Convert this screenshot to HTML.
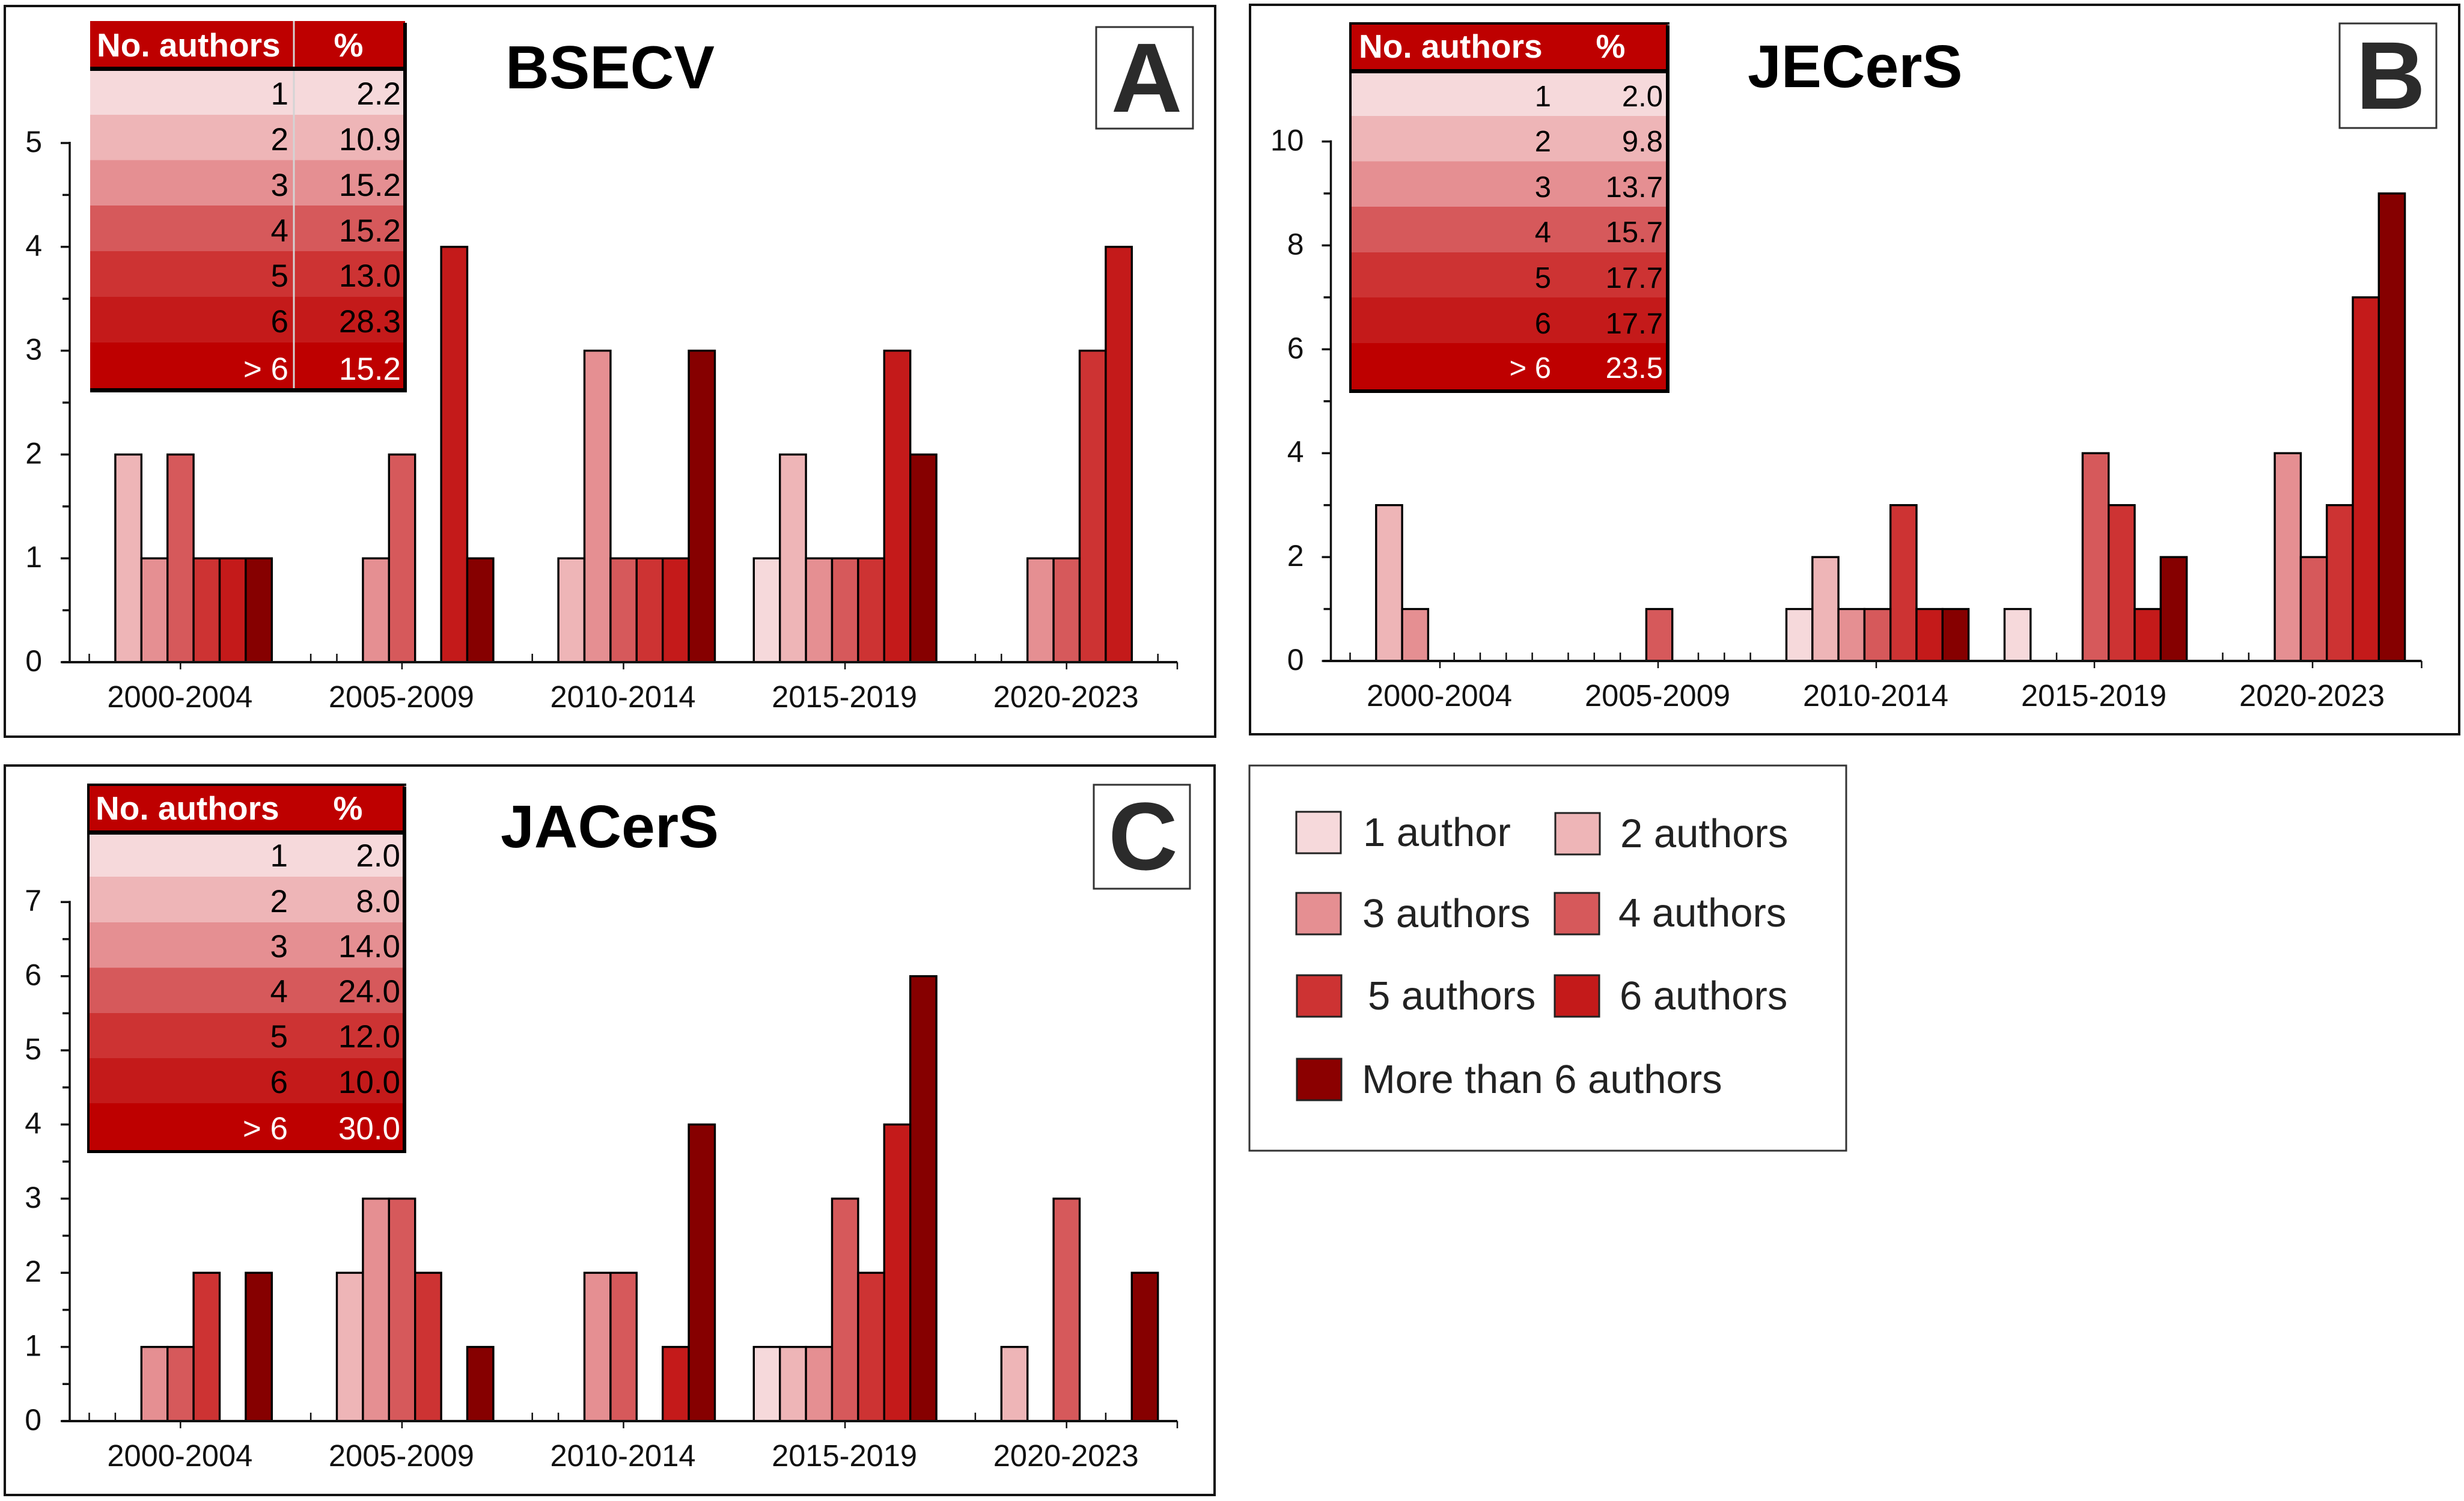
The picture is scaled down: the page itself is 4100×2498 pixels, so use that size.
<!DOCTYPE html>
<html lang="en">
<head>
<meta charset="utf-8">
<title>Number of authors per paper by period: BSECV, JECerS, JACerS</title>
<style>
html,body{margin:0;padding:0;background:#fff;}
svg{display:block;}
text{font-family:"Liberation Sans",sans-serif;}
</style>
</head>
<body>
<svg id="figure" xmlns="http://www.w3.org/2000/svg" width="4100" height="2498" viewBox="0 0 4100 2498">
  <rect x="0" y="0" width="4100" height="2498" fill="#fff"/>

  <g id="panel-a">
    <rect x="8" y="10" width="2014" height="1216" fill="#fff" stroke="#111" stroke-width="4"/>
    <text x="841" y="147" font-size="101" font-weight="700" fill="#000">BSECV</text>
    <rect x="1824" y="45" width="161" height="169" fill="#fff" stroke="#333" stroke-width="3"/>
    <text x="1908" y="186" font-size="164" font-weight="700" fill="#2b2b2b" text-anchor="middle">A</text>
  </g>

  <g id="panel-b">
    <rect x="2080" y="8" width="2012" height="1214" fill="#fff" stroke="#111" stroke-width="4"/>
    <text x="2908" y="145" font-size="100.5" font-weight="700" fill="#000">JECerS</text>
    <rect x="3893" y="39" width="161" height="174" fill="#fff" stroke="#333" stroke-width="3"/>
    <text x="3978" y="181" font-size="160" font-weight="700" fill="#2b2b2b" text-anchor="middle">B</text>
  </g>

  <g id="panel-c">
    <rect x="8" y="1274" width="2013" height="1214" fill="#fff" stroke="#111" stroke-width="4"/>
    <text x="833" y="1410" font-size="100.5" font-weight="700" fill="#000">JACerS</text>
    <rect x="1820" y="1306" width="160" height="173" fill="#fff" stroke="#333" stroke-width="3"/>
    <text x="1902" y="1447" font-size="160" font-weight="700" fill="#2b2b2b" text-anchor="middle">C</text>
  </g>

  <g id="legend">
    <rect x="2079" y="1274" width="993" height="641" fill="#fff" stroke="#333" stroke-width="3"/>
    <g>
      <rect x="2157" y="1351" width="74" height="69" fill="#F6D9DB" stroke="#222" stroke-width="3"/>
      <text x="2268" y="1408" font-size="67" fill="#222">1 author</text>
    </g>
    <g>
      <rect x="2588" y="1353" width="74" height="69" fill="#EEB5B7" stroke="#222" stroke-width="3"/>
      <text x="2696" y="1410" font-size="67" fill="#222">2 authors</text>
    </g>
    <g>
      <rect x="2157" y="1486" width="74" height="69" fill="#E58F92" stroke="#222" stroke-width="3"/>
      <text x="2267" y="1543" font-size="67" fill="#222">3 authors</text>
    </g>
    <g>
      <rect x="2587" y="1486" width="74" height="69" fill="#D6595B" stroke="#222" stroke-width="3"/>
      <text x="2693" y="1542" font-size="67" fill="#222">4 authors</text>
    </g>
    <g>
      <rect x="2158" y="1623" width="74" height="69" fill="#CD3333" stroke="#222" stroke-width="3"/>
      <text x="2276" y="1680" font-size="67" fill="#222">5 authors</text>
    </g>
    <g>
      <rect x="2587" y="1623" width="74" height="69" fill="#C41A1A" stroke="#222" stroke-width="3"/>
      <text x="2695" y="1680" font-size="67" fill="#222">6 authors</text>
    </g>
    <g>
      <rect x="2158" y="1762" width="74" height="69" fill="#8B0000" stroke="#222" stroke-width="3"/>
      <text x="2266" y="1819" font-size="67" fill="#222">More than 6 authors</text>
    </g>
  </g>
</svg>

<script>
// ----- chart data -----
const periodLabels = ["2000-2004", "2005-2009", "2010-2014", "2015-2019", "2020-2023"];
const seriesColors = ["#F6D9DB", "#EEB5B7", "#E58F92", "#D6595B", "#CD3333", "#C41A1A", "#860000"];
const seriesKeys = ["1-author", "2-authors", "3-authors", "4-authors", "5-authors", "6-authors", "over-6-authors"];

const bsecvCounts = [
  [0, 2, 1, 2, 1, 1, 1],
  [0, 0, 1, 2, 0, 4, 1],
  [0, 1, 3, 1, 1, 1, 3],
  [1, 2, 1, 1, 1, 3, 2],
  [0, 0, 1, 1, 3, 4, 0]
];
const jecersCounts = [
  [0, 3, 1, 0, 0, 0, 0],
  [0, 0, 0, 1, 0, 0, 0],
  [1, 2, 1, 1, 3, 1, 1],
  [1, 0, 0, 4, 3, 1, 2],
  [0, 0, 4, 2, 3, 7, 9]
];
const jacersCounts = [
  [0, 0, 1, 1, 2, 0, 2],
  [0, 2, 3, 3, 2, 0, 1],
  [0, 0, 2, 2, 0, 1, 4],
  [1, 1, 1, 3, 2, 4, 6],
  [0, 1, 0, 3, 0, 0, 2]
];

const bsecvTicks = [0, 1, 2, 3, 4, 5];
const jecersTicks = [0, 2, 4, 6, 8, 10];
const jacersTicks = [0, 1, 2, 3, 4, 5, 6, 7];

const tableAuthorLabels = ["1", "2", "3", "4", "5", "6", "> 6"];
const bsecvShares = ["2.2", "10.9", "15.2", "15.2", "13.0", "28.3", "15.2"];
const jecersShares = ["2.0", "9.8", "13.7", "15.7", "17.7", "17.7", "23.5"];
const jacersShares = ["2.0", "8.0", "14.0", "24.0", "12.0", "10.0", "30.0"];

// ----- geometry (kept apart from the data) -----
const NS = "http://www.w3.org/2000/svg";
const rowFills = ["#F6D9DB", "#EEB5B7", "#E58F92", "#D6595B", "#CD3333", "#C41A1A", "#BE0000"];

function shape(parent, tag, attrs, text) {
  const el = document.createElementNS(NS, tag);
  for (const k in attrs) el.setAttribute(k, attrs[k]);
  if (text !== undefined) el.textContent = text;
  parent.appendChild(el);
  return el;
}

function drawChart(panelId, prefix, counts, ticks, g) {
  const root = document.getElementById(panelId);
  const xGroup = (i) => g.axisX + i * g.groupWidth;
  const xSlot = (i, s) => xGroup(i) + g.groupPad + s * g.slot;
  const yVal = (v) => g.y0 - v * g.unit;
  const yMax = ticks[ticks.length - 1];
  const tickStep = ticks[1] - ticks[0];

  // minor ticks rising from the x axis at every slot boundary
  periodLabels.forEach((label, i) => {
    for (let s = 0; s <= 7; s++) {
      const x = xSlot(i, s);
      const t = shape(root, "line", {x1: x, x2: x, y1: g.y0, y2: g.y0 - 14, stroke: "#111", "stroke-width": 2.5});
      
      
    }
  });

  // bars
  counts.forEach((row, i) => {
    row.forEach((v, s) => {
      if (v <= 0) return;
      const b = shape(root, "rect", {x: xSlot(i, s), y: yVal(v), width: g.slot, height: g.y0 - yVal(v),
        fill: seriesColors[s], stroke: "#000", "stroke-width": 3.4});
      
      
    });
  });

  // y axis line
  const yAxis = shape(root, "line", {x1: g.axisX, x2: g.axisX, y1: yVal(yMax) - 2, y2: g.y0 + 2, stroke: "#111", "stroke-width": 3.5});
  
  

  // y ticks and labels
  ticks.forEach((v) => {
    const major = shape(root, "line", {x1: g.axisX - 15, x2: g.axisX, y1: yVal(v), y2: yVal(v), stroke: "#111", "stroke-width": 3.5});
    
    
    if (v < yMax) {
      const minor = shape(root, "line", {x1: g.axisX - 12, x2: g.axisX, y1: yVal(v + tickStep / 2), y2: yVal(v + tickStep / 2), stroke: "#111", "stroke-width": 3.5});
      
      
    }
    const lab = shape(root, "text", {x: g.axisX - g.yLabelGap, y: yVal(v) + 15, "font-size": 50, fill: "#111", "text-anchor": "end"}, String(v));
    
    
  });

  // x axis line, major ticks, labels
  const xEnd = xGroup(periodLabels.length);
  const xAxis = shape(root, "line", {x1: g.axisX - 13, x2: xEnd, y1: g.y0, y2: g.y0, stroke: "#111", "stroke-width": 4});
  
  

  const endTick = shape(root, "line", {x1: xEnd, x2: xEnd, y1: g.y0, y2: g.y0 + 12, stroke: "#111", "stroke-width": 2.5});
  
  

  periodLabels.forEach((label, i) => {
    const cx = xGroup(i) + g.groupWidth / 2;
    const t = shape(root, "line", {x1: cx, x2: cx, y1: g.y0, y2: g.y0 + 12, stroke: "#111", "stroke-width": 2.5});
    
    
    const lab = shape(root, "text", {x: cx - 1, y: g.xLabelY, "font-size": 50.6, fill: "#111", "text-anchor": "middle"}, label);
    
    
  });
}

function drawTable(panelId, prefix, shares, t) {
  const root = document.getElementById(panelId);
  const w = t.right - t.left;
  const tbl = document.createElementNS(NS, "g");
  
  
  root.appendChild(tbl);

  const head = shape(tbl, "rect", {x: t.left, y: t.top, width: w, height: t.edges[0] - t.top, fill: "#BE0000"});
  
  

  const h1 = shape(tbl, "text", {x: t.headX, y: t.headY, "font-size": 55, "font-weight": 700, fill: "#fff"}, "No. authors");
  
  

  const h2 = shape(tbl, "text", {x: t.pctX, y: t.headY, "font-size": 55, "font-weight": 700, fill: "#fff", "text-anchor": "middle"}, "%");
  
  

  tableAuthorLabels.forEach((label, r) => {
    const row = shape(tbl, "rect", {x: t.left, y: t.edges[r], width: w, height: t.edges[r + 1] - t.edges[r], fill: rowFills[r]});
    
    
    const color = r === 6 ? "#fff" : "#000";
    const a = shape(tbl, "text", {x: t.col1, y: t.base[r], "font-size": t.fs, fill: color, "text-anchor": "end"}, label);
    
    
    const b = shape(tbl, "text", {x: t.col2, y: t.base[r], "font-size": t.fs, fill: color, "text-anchor": "end"}, shares[r]);
    
    
  });

  if (t.divider) {
    const d = shape(tbl, "line", {x1: t.divider, x2: t.divider, y1: t.top, y2: t.edges[7], stroke: "#d4d4d4", "stroke-width": 3});
    
    
  }

  const sep = shape(tbl, "rect", {x: t.left, y: t.edges[0] - t.sepH, width: w, height: t.sepH, fill: "#000"});
  
  

  const bot = shape(tbl, "rect", {x: t.left, y: t.edges[7], width: w + 3, height: t.botH, fill: "#000"});
  
  

  const rgt = shape(tbl, "rect", {x: t.right - 3, y: t.top + 3, width: 6, height: t.edges[7] - t.top, fill: "#000"});
  
  

  if (t.box) {
    const topLine = shape(tbl, "rect", {x: t.left, y: t.top - 2, width: w + 3, height: 4, fill: "#000"});
    
    
    const leftLine = shape(tbl, "rect", {x: t.left - 2, y: t.top - 2, width: 4, height: t.edges[7] - t.top + t.botH + 2, fill: "#000"});
    
    
  }
}

drawChart("panel-a", "bsecv", bsecvCounts, bsecvTicks,
  {axisX: 116, y0: 1102, unit: 172.8, groupWidth: 368.6, groupPad: 32.5, slot: 43.4, xLabelY: 1177, yLabelGap: 46});
drawChart("panel-b", "jecers", jecersCounts, jecersTicks,
  {axisX: 2214.5, y0: 1100, unit: 86.45, groupWidth: 363, groupPad: 32, slot: 43.3, xLabelY: 1175, yLabelGap: 45});
drawChart("panel-c", "jacers", jacersCounts, jacersTicks,
  {axisX: 116, y0: 2365, unit: 123.4, groupWidth: 368.6, groupPad: 32.5, slot: 43.4, xLabelY: 2440, yLabelGap: 47});

drawTable("panel-a", "bsecv", bsecvShares, {left: 150, right: 674, top: 35,
  edges: [118, 191, 266.5, 342, 418, 494, 570, 646], base: [174, 250, 326, 402, 477, 553, 632],
  sepH: 7, botH: 7, headX: 161, headY: 94, pctX: 580, col1: 480, col2: 667, fs: 53, divider: 489, box: false});
drawTable("panel-b", "jecers", jecersShares, {left: 2247, right: 2775, top: 39,
  edges: [122, 193, 268.5, 344, 420, 495, 571, 648], base: [177, 252, 328, 403, 479, 555, 629],
  sepH: 7, botH: 6, headX: 2261, headY: 96, pctX: 2680, col1: 2581, col2: 2767, fs: 49, divider: 0, box: true});
drawTable("panel-c", "jacers", jacersShares, {left: 147, right: 673, top: 1306,
  edges: [1389, 1459, 1535, 1610.5, 1686, 1761, 1836, 1914], base: [1442, 1518, 1593, 1668, 1743, 1819, 1896],
  sepH: 7, botH: 5, headX: 159, headY: 1364, pctX: 579, col1: 479, col2: 666, fs: 53, divider: 0, box: true});
</script>
</body>
</html>
